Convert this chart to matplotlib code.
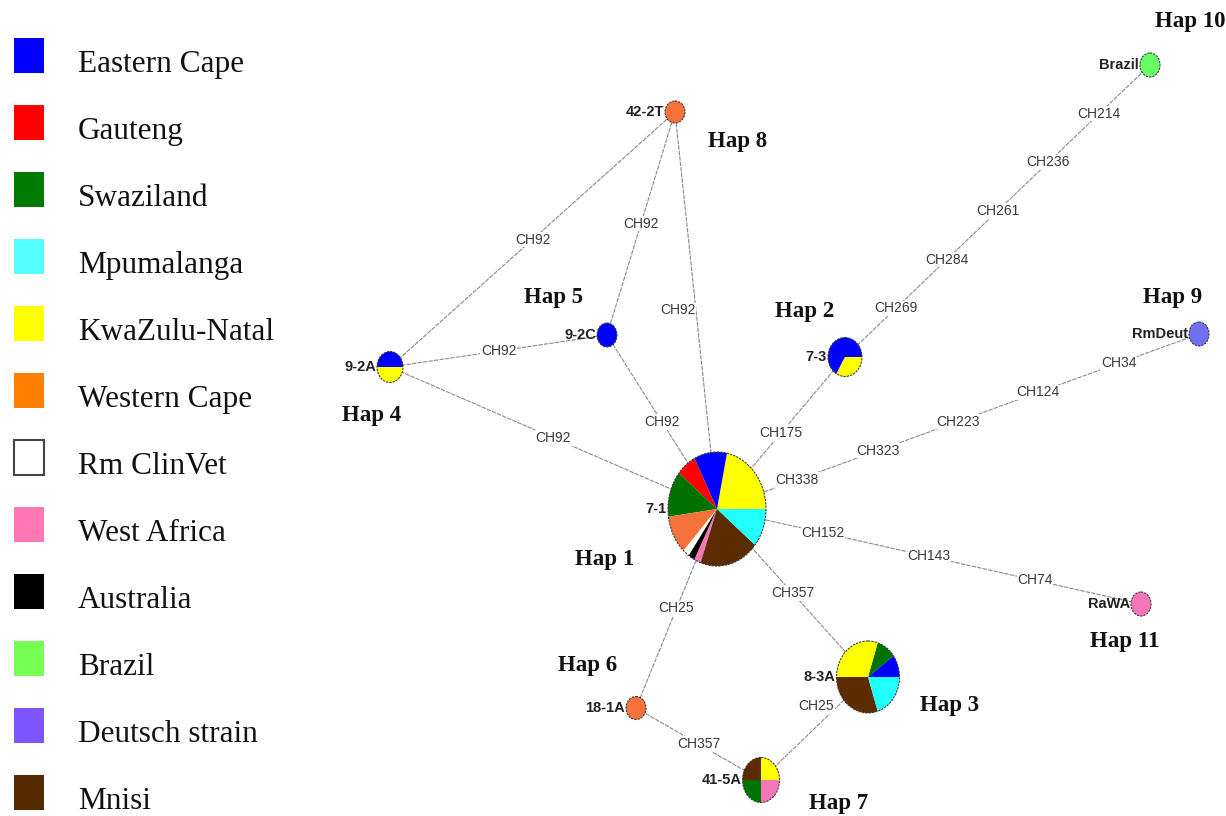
import matplotlib
matplotlib.use("Agg")
import matplotlib.pyplot as plt
from matplotlib.patches import Wedge, Ellipse, Rectangle
from matplotlib.transforms import Affine2D

# ---------------- data ----------------
regions = ['Eastern Cape', 'Gauteng', 'Swaziland', 'Mpumalanga', 'KwaZulu-Natal',
           'Western Cape', 'Rm ClinVet', 'West Africa', 'Australia', 'Brazil',
           'Deutsch strain', 'Mnisi']
legend_colors = ['#0000ff', '#ff0000', '#007a00', '#55ffff', '#ffff00', '#ff8000',
                 '#ffffff', '#ff77b4', '#000000', '#77ff55', '#7f55ff', '#552a00']
pie_colors = ['#0000ff', '#ff0000', '#007200', '#22ffff', '#ffff00', '#f5733a',
              '#ffffff', '#f677b8', '#000000', '#66ff66', '#7070f2', '#5c2c00']

hap_names = ['Hap 1', 'Hap 2', 'Hap 3', 'Hap 4', 'Hap 5', 'Hap 6', 'Hap 7',
             'Hap 8', 'Hap 9', 'Hap 10', 'Hap 11']
sample_labels = ['7-1', '7-3', '8-3A', '9-2A', '9-2C', '18-1A', '41-5A',
                 '42-2T', 'RmDeut', 'Brazil', 'RaWA']

hap_regions = [
    ['KwaZulu-Natal', 'Eastern Cape', 'Gauteng', 'Swaziland', 'Western Cape',
     'Rm ClinVet', 'Australia', 'West Africa', 'Mnisi', 'Mpumalanga'],
    ['Eastern Cape', 'KwaZulu-Natal'],
    ['Eastern Cape', 'Swaziland', 'KwaZulu-Natal', 'Mnisi', 'Mpumalanga'],
    ['Eastern Cape', 'KwaZulu-Natal'],
    ['Eastern Cape'],
    ['Western Cape'],
    ['KwaZulu-Natal', 'Mnisi', 'Swaziland', 'West Africa'],
    ['Western Cape'],
    ['Deutsch strain'],
    ['Brazil'],
    ['West Africa'],
]
hap_counts = [
    [10, 5, 3, 6, 5, 1, 1, 1, 9, 5],
    [2, 1],
    [1, 1, 3, 3, 2],
    [1, 1],
    [1],
    [1],
    [1, 1, 1, 1],
    [1],
    [1],
    [1],
    [1],
]

edges = [
    ('Hap 8', 'Hap 4', ['CH92']),
    ('Hap 8', 'Hap 5', ['CH92']),
    ('Hap 8', 'Hap 1', ['CH92']),
    ('Hap 4', 'Hap 5', ['CH92']),
    ('Hap 4', 'Hap 1', ['CH92']),
    ('Hap 5', 'Hap 1', ['CH92']),
    ('Hap 2', 'Hap 1', ['CH175']),
    ('Hap 2', 'Hap 10', ['CH269', 'CH284', 'CH261', 'CH236', 'CH214']),
    ('Hap 1', 'Hap 9', ['CH338', 'CH323', 'CH223', 'CH124', 'CH34']),
    ('Hap 1', 'Hap 11', ['CH152', 'CH143', 'CH74']),
    ('Hap 1', 'Hap 3', ['CH357']),
    ('Hap 1', 'Hap 6', ['CH25']),
    ('Hap 6', 'Hap 7', ['CH357']),
    ('Hap 7', 'Hap 3', ['CH25']),
]

# ---------------- layout (pixel space) ----------------
node_pos = {'Hap 1': (717, 509), 'Hap 2': (845, 357), 'Hap 3': (868, 677),
            'Hap 4': (390, 367), 'Hap 5': (607, 335), 'Hap 6': (636, 708),
            'Hap 7': (761, 780), 'Hap 8': (675, 112), 'Hap 9': (1199, 334),
            'Hap 10': (1150, 65), 'Hap 11': (1141, 604)}
node_size = {'Hap 1': (98, 114), 'Hap 2': (34, 39), 'Hap 3': (63, 72),
             'Hap 4': (26, 31), 'Hap 5': (20, 24), 'Hap 6': (20, 23),
             'Hap 7': (37, 45), 'Hap 8': (20, 22), 'Hap 9': (20, 24),
             'Hap 10': (20, 24), 'Hap 11': (20, 24)}
hap_label_pos = {'Hap 1': (605, 559), 'Hap 2': (805, 311), 'Hap 3': (950, 706),
                 'Hap 4': (372, 416), 'Hap 5': (554, 298), 'Hap 6': (588, 665),
                 'Hap 7': (839, 803), 'Hap 8': (738, 141), 'Hap 9': (1173, 298),
                 'Hap 10': (1190, 22), 'Hap 11': (1125, 642)}
edge_label_offset = {('Hap 8', 'Hap 1'): (-18, 0), ('Hap 7', 'Hap 3'): (2, -22)}

fig = plt.figure(figsize=(12.26, 8.16), dpi=100)
ax = fig.add_axes([0, 0, 1, 1])
ax.set_xlim(0, 1226)
ax.set_ylim(816, 0)
ax.axis('off')

color_of = dict(zip(regions, pie_colors))

# edges
for a, b, labs in edges:
    (x1, y1), (x2, y2) = node_pos[a], node_pos[b]
    ax.plot([x1, x2], [y1, y2], color='#8a8a8a', lw=0.8, ls=(0, (4, 1)), zorder=1)
    n = len(labs)
    dx, dy = edge_label_offset.get((a, b), (0, 0))
    for i, lab in enumerate(labs, start=1):
        f = i / (n + 1)
        ax.text(x1 + (x2 - x1) * f + dx, y1 + (y2 - y1) * f + dy, lab,
                fontsize=10, family='Liberation Sans', color='#3a3a3a',
                ha='center', va='center', zorder=2,
                bbox=dict(boxstyle='square,pad=0.05', fc='white', ec='none'))

# nodes
for name, regs, cnts, lab in zip(hap_names, hap_regions, hap_counts, sample_labels):
    cx, cy = node_pos[name]
    w, h = node_size[name]
    tr = Affine2D().scale(w / 2, -h / 2).translate(cx, cy) + ax.transData
    total = sum(cnts)
    start = 0.0
    for r, c in zip(regs, cnts):
        ang = 360.0 * c / total
        wd = Wedge((0, 0), 1, start, start + ang, transform=tr,
                   fc=color_of[r], ec='none', zorder=3)
        ax.add_patch(wd)
        start += ang
    ax.add_patch(Ellipse((cx, cy), w, h, fill=False, ec='#3a3a3a', lw=0.8,
                         ls=(0, (2, 1)), zorder=4))
    ax.text(cx - w / 2 - 1, cy, lab, fontsize=10.5, family='Liberation Sans',
            fontweight='bold', color='#222222', ha='right', va='center', zorder=5)
    hx, hy = hap_label_pos[name]
    ax.text(hx, hy, name, fontsize=16.5, family='Liberation Serif',
            fontweight='bold', color='#111111', ha='center', va='center', zorder=5)

# legend
for i, (r, c) in enumerate(zip(regions, legend_colors)):
    yc = 55 + i * 67
    ec = '#444444' if r == 'Rm ClinVet' else c
    lw = 1.5 if r == 'Rm ClinVet' else 0
    ax.add_patch(Rectangle((14, yc - 17.5), 30, 35, fc=c, ec=ec, lw=lw, zorder=3))
    ax.text(78, yc + 17, r, fontsize=22.5, family='Liberation Serif',
            color='#111111', ha='left', va='baseline')

fig.savefig('out.png', dpi=100)
